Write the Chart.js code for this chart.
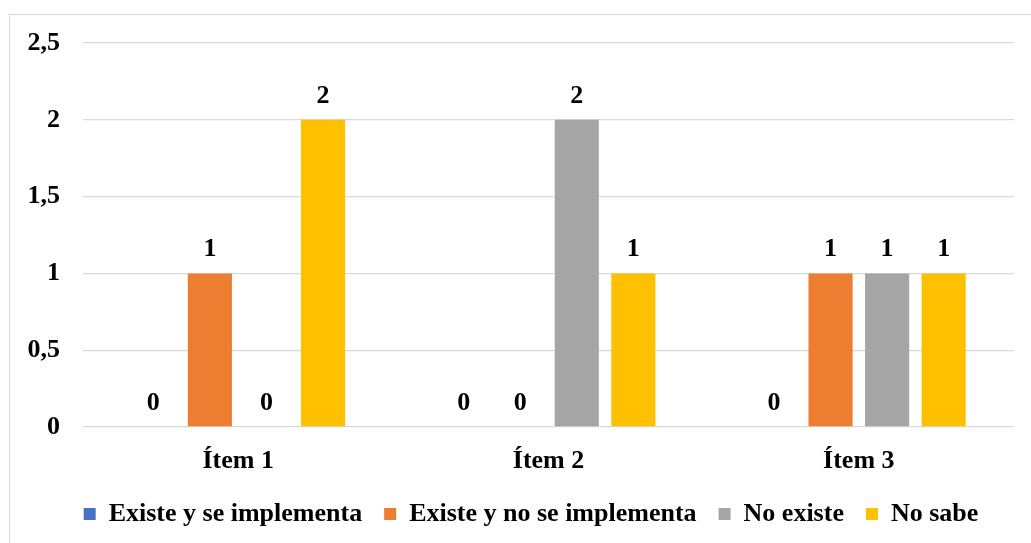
<!DOCTYPE html>
<html>
<head>
<meta charset="utf-8">
<script src="https://cdn.jsdelivr.net/npm/chart.js@4/dist/chart.umd.min.js"></script>
<style>
  html, body { margin: 0; padding: 0; background: #fff; overflow: hidden; }
  #wrap { position: relative; width: 1031px; height: 543px; }
  #frame { position: absolute; left: 9px; top: 14px; width: 1100px; height: 600px; border: 1px solid #d9d9d9; box-sizing: border-box; }
  canvas { position: absolute; left: 0; top: 0; }
</style>
</head>
<body>
<div id="wrap">
  <div id="frame"></div>
  <canvas id="c" width="1031" height="543"></canvas>
</div>
<script>
const categories = ["Ítem 1", "Ítem 2", "Ítem 3"];
const seriesNames = ["Existe y se implementa", "Existe y no se implementa", "No existe", "No sabe"];
const existeImplementa = [0, 0, 0];
const existeNoImplementa = [1, 0, 1];
const noExiste = [0, 2, 1];
const noSabe = [2, 1, 1];
const tickValues = [0, 0.5, 1, 1.5, 2, 2.5];
const tickLabels = ["0", "0,5", "1", "1,5", "2", "2,5"];
const colors = ["#4472C4", "#ED7D31", "#A5A5A5", "#FFC000"];

const FONT = "'Liberation Serif', 'Times New Roman', serif";
const FS = 26;

const valueLabels = {
  id: 'valueLabels',
  afterDatasetsDraw(chart) {
    const ctx = chart.ctx;
    ctx.save();
    ctx.font = "bold " + FS + "px " + FONT;
    ctx.fillStyle = "#000";
    ctx.textAlign = "center";
    ctx.textBaseline = "middle";
    chart.data.datasets.forEach((ds, i) => {
      const meta = chart.getDatasetMeta(i);
      meta.data.forEach((el, j) => {
        ctx.fillText(String(ds.data[j]), el.x, el.y - 24);
      });
    });
    ctx.restore();
  }
};

const seriesData = [existeImplementa, existeNoImplementa, noExiste, noSabe];

new Chart(document.getElementById('c'), {
  type: 'bar',
  data: {
    labels: categories,
    datasets: seriesNames.map((n, i) => ({
      label: n,
      data: seriesData[i],
      backgroundColor: colors[i],
      borderWidth: 0,
      categoryPercentage: 0.729,
      barPercentage: 0.78
    }))
  },
  options: {
    responsive: false,
    animation: false,
    devicePixelRatio: 1,
    layout: { padding: { left: 0, right: -31, top: 43, bottom: 6 } },
    plugins: {
      tooltip: { enabled: false },
      legend: {
        position: 'bottom',
        labels: {
          font: { family: FONT, size: FS, weight: 'bold' },
          color: '#000',
          boxWidth: 12,
          boxHeight: 12,
          padding: 22
        }
      }
    },
    scales: {
      x: {
        grid: { display: false, drawTicks: false },
        border: { display: false },
        ticks: {
          font: { family: FONT, size: FS, weight: 'bold' },
          color: '#000',
          padding: 19
        },
        afterFit(s) { s.height = 52; }
      },
      y: {
        min: 0,
        max: 2.5,
        grid: { color: '#d9d9d9', lineWidth: 1.3, drawTicks: false },
        border: { display: false },
        afterBuildTicks(s) { s.ticks = tickValues.map(v => ({ value: v })); },
        ticks: {
          font: { family: FONT, size: FS, weight: 'bold' },
          color: '#000',
          padding: 23,
          callback(v) { const k = tickValues.indexOf(v); return k >= 0 ? tickLabels[k] : ''; }
        },
        afterFit(s) { s.width = 83; }
      },
      yRight: {
        type: 'linear',
        position: 'right',
        min: 0,
        max: 2.5,
        grid: { display: false, drawTicks: false },
        border: { display: false },
        ticks: { display: false },
        afterFit(s) { s.width = 48; }
      }
    }
  },
  plugins: [valueLabels]
});
</script>
</body>
</html>
